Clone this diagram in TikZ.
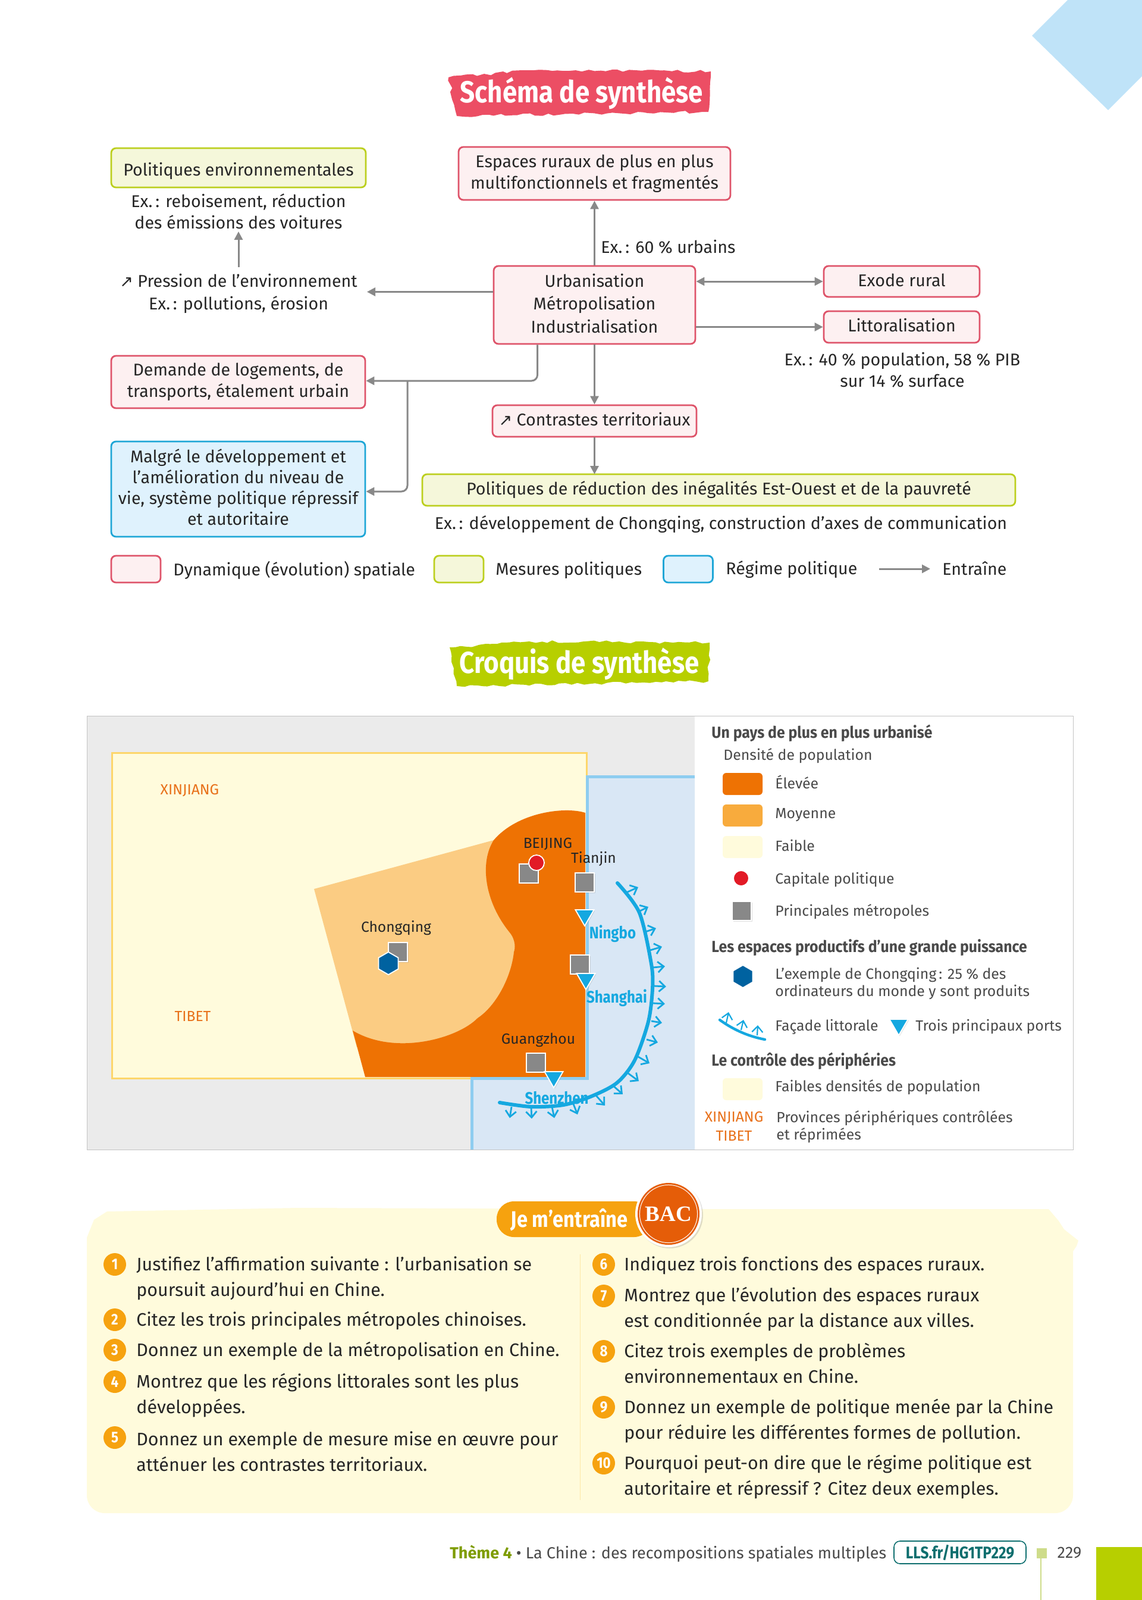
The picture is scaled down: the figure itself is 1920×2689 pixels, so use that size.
\documentclass[tikz,border=0pt]{standalone}
\usepackage{fontspec}
\setmainfont{Fira Sans}
\newfontfamily\headfont[FakeStretch=0.86]{Fira Sans}
\newfontfamily\keyfont[FakeStretch=0.92]{Fira Sans}
\newfontfamily\bacfont{Liberation Serif}
\newfontfamily\arrowfont{DejaVu Sans}
\usetikzlibrary{arrows.meta,calc,decorations.pathmorphing,positioning,shadows,shapes.geometric}
\definecolor{rosedraw}{RGB}{222,84,106}
\definecolor{rosefill}{RGB}{253,240,241}
\definecolor{limedraw}{RGB}{188,207,30}
\definecolor{limefill}{RGB}{245,247,218}
\definecolor{skydraw}{RGB}{30,166,214}
\definecolor{skyfill}{RGB}{223,242,253}
\definecolor{titlered}{RGB}{236,78,100}
\definecolor{titlegreen}{RGB}{183,207,0}
\definecolor{arrowgray}{RGB}{136,136,136}
\definecolor{inkdark}{RGB}{38,38,38}
\definecolor{legendink}{RGB}{74,74,74}
\definecolor{mapgray}{RGB}{235,235,235}
\definecolor{framegray}{RGB}{195,195,195}
\definecolor{faible}{RGB}{255,251,220}
\definecolor{faibledraw}{RGB}{253,214,107}
\definecolor{moyenne}{RGB}{251,204,131}
\definecolor{moyennekey}{RGB}{248,171,61}
\definecolor{elevee}{RGB}{238,114,3}
\definecolor{seafill}{RGB}{217,231,245}
\definecolor{seadraw}{RGB}{142,205,240}
\definecolor{coastblue}{RGB}{21,168,224}
\definecolor{hexblue}{RGB}{0,98,160}
\definecolor{capred}{RGB}{226,26,38}
\definecolor{provorange}{RGB}{232,113,26}
\definecolor{panelorange}{RGB}{246,162,15}
\definecolor{bacorange}{RGB}{229,93,8}
\definecolor{footgreen}{RGB}{126,156,0}
\definecolor{footteal}{RGB}{13,110,110}
\definecolor{footsquare}{RGB}{206,220,138}
\definecolor{cornerblue}{RGB}{191,227,248}
\newcommand{\uparr}{{\arrowfont\fontsize{13.5}{13.5}\selectfont ↗}}
\begin{document}
\begin{tikzpicture}[x=0.5pt,y=-0.5pt,
    txt/.style={inner sep=0pt,text=inkdark,font=\fontsize{14.3}{18}\selectfont,align=center},
    box/.style={txt,draw,line width=1.4pt,rounded corners=4pt},
    oneline/.style={text height=10pt,text depth=2pt},
    rosebox/.style={box,draw=rosedraw,fill=rosefill},
    limebox/.style={box,draw=limedraw,fill=limefill},
    skybox/.style={box,draw=skydraw,fill=skyfill},
    arr/.style={draw=arrowgray,line width=1.5pt,-{Triangle[length=7pt,width=7pt]}},
    maplbl/.style={inner sep=0pt,text=inkdark,font=\fontsize{12.3}{14}\selectfont},
    portlbl/.style={inner sep=0pt,text=coastblue,font=\headfont\bfseries\fontsize{14}{16}\selectfont},
    provlbl/.style={inner sep=0pt,text=provorange,font=\fontsize{12.3}{16}\selectfont},
    metro/.style={draw=white,fill=arrowgray,line width=0.9pt,minimum size=16pt,inner sep=0pt,drop shadow={opacity=.25,shadow xshift=.8pt,shadow yshift=-.8pt}},
    port/.style={regular polygon,regular polygon sides=3,shape border rotate=180,draw=white,fill=coastblue,line width=0.9pt,minimum size=18pt,inner sep=0pt,drop shadow={opacity=.2,shadow xshift=.8pt,shadow yshift=-.8pt}},
    capdot/.style={circle,draw=white,fill=capred,line width=0.9pt,minimum size=13pt,inner sep=0pt},
    hexmark/.style={regular polygon,regular polygon sides=6,shape border rotate=30,draw=white,fill=hexblue,line width=0.9pt,minimum size=19pt,inner sep=0pt},
    keybox/.style={rounded corners=3pt,minimum width=33.5pt,minimum height=18.5pt,inner sep=0pt},
    keyhead/.style={anchor=west,inner sep=0pt,text=legendink,font=\keyfont\bfseries\fontsize{13.5}{16}\selectfont},
    keytxt/.style={anchor=west,inner sep=0pt,yshift=-0.7pt,text=legendink,align=left,font=\fontsize{12.4}{14.5}\selectfont},
    coast/.style={draw=coastblue,line width=3pt,line cap=round},
    tick/.style={draw=coastblue,line width=1.4pt,-{Straight Barb[length=5pt,width=9pt]}},
    numdot/.style={circle,fill=panelorange,text=white,minimum size=19pt,inner sep=0pt,font=\headfont\bfseries\fontsize{13}{13}\selectfont},
    item/.style={anchor=west,inner sep=0pt,yshift=-1.5pt,text=inkdark,align=left,font=\fontsize{15.2}{21.5}\selectfont},
    rough/.style={decorate,decoration={random steps,segment length=5pt,amplitude=1.2pt}}]
  \useasboundingbox (0,0) rectangle (1920,2689);

  \fill[cornerblue] (1795,0) -- (1920,0) -- (1920,128) -- (1863,185) -- (1735,60) -- cycle;

  % schema
  \fill[titlered,rough] (754,130) -- (898,118) -- (1195,120) -- (1191,188) -- (768,195) -- cycle;
  \node[inner sep=0pt,text=white,font=\headfont\bfseries\fontsize{25.5}{28}\selectfont] (titleschema) at (978,157) {Schéma de synthèse};

  \node[limebox,text height=13pt,text depth=0pt,minimum width=214pt,minimum height=33pt] (envbox) at (401,282) {Politiques environnementales};
  \node[txt] (envex) at (401,355) {Ex.\,: reboisement, réduction\\des émissions des voitures};
  \node[txt,font=\fontsize{14.3}{19}\selectfont] (pression) at (401,493) {\uparr\ Pression de l’environnement\\Ex.\,: pollutions, érosion};
  \node[rosebox,minimum width=228.5pt,minimum height=44.5pt] (espaces) at (999.5,291.5) {Espaces ruraux de plus en plus\\multifonctionnels et fragmentés};
  \node[txt,anchor=west] (exurbains) at (1010,415) {Ex.\,: 60 \% urbains};
  \node[rosebox,minimum width=169.5pt,minimum height=65.5pt,font=\fontsize{14.3}{19.3}\selectfont] (urban) at (999.5,512.5) {Urbanisation\\Métropolisation\\Industrialisation\rule[-3pt]{0pt}{3pt}};
  \node[rosebox,oneline,minimum width=131pt,minimum height=26pt] (exode) at (1516,473) {Exode rural};
  \node[rosebox,oneline,minimum width=131pt,minimum height=26.5pt] (littoral) at (1516,549.5) {Littoralisation};
  \node[txt] (exlittoral) at (1517,622) {Ex.\,: 40 \% population, 58 \% PIB\\sur 14 \% surface};
  \node[rosebox,minimum width=213.5pt,minimum height=44pt] (demande) at (400.5,642) {Demande de logements, de\\transports, étalement urbain};
  \node[rosebox,oneline,minimum width=171.5pt,minimum height=26.5pt] (contrastes) at (999.5,707.5) {\uparr\ Contrastes territoriaux};
  \node[skybox,minimum width=213.5pt,minimum height=80pt,font=\fontsize{14.3}{17.5}\selectfont] (malgre) at (400.5,822) {Malgré le développement et\\l’amélioration du niveau de\\vie, système politique répressif\\et autoritaire\rule[-3pt]{0pt}{3pt}};
  \node[limebox,oneline,minimum width=498.5pt,minimum height=26.5pt] (reduction) at (1208.5,823.5) {Politiques de réduction des inégalités Est-Ouest et de la pauvreté};
  \node[txt] (exreduction) at (1212,881) {Ex.\,: développement de Chongqing, construction d’axes de communication};

  \coordinate (pressionend) at (617,490.5);
  \coordinate (branch) at (685,640);
  \draw[arr] (urban) -- (espaces);
  \draw[arr,shorten >=2pt,shorten <=5pt] (pression.north) -- (envex.south);
  \draw[arr] ([yshift=11pt]urban.west) -- (pressionend);
  \draw[arr,{Triangle[length=7pt,width=7pt]}-{Triangle[length=7pt,width=7pt]}] (urban.east|-exode) -- (exode.west);
  \draw[arr] (urban.east|-littoral) -- (littoral.west);
  \draw[arr,rounded corners=5pt] ([xshift=37.5pt]urban.south west) |- ([yshift=1pt]demande.east);
  \draw[arr,rounded corners=5pt] (branch) |- ([yshift=-2pt]malgre.east);
  \draw[arr] (urban) -- (contrastes);
  \draw[arr] (contrastes) -- (999.5,797);

  \node[rosebox,minimum width=41.5pt,minimum height=22.5pt] (keydyn) at (228.5,956.5) {};
  \node[txt,anchor=west] (lbldyn) at (291,958) {Dynamique (évolution) spatiale};
  \node[limebox,minimum width=41.5pt,minimum height=22.5pt] (keymes) at (771.5,956.5) {};
  \node[txt,anchor=west] (lblmes) at (833,958) {Mesures politiques};
  \node[skybox,minimum width=41.5pt,minimum height=22.5pt] (keyreg) at (1157,956.5) {};
  \node[txt,anchor=west] (lblreg) at (1220,957) {Régime politique};
  \coordinate (keyarrow) at (1478,956);
  \node[txt,anchor=west] (lblentraine) at (1584,955) {Entraîne};
  \draw[arr] (keyarrow) -- (1564,956);

  % croquis
  \fill[titlegreen,rough] (756,1088) -- (890,1078) -- (1193,1080) -- (1191,1145) -- (768,1153) -- cycle;
  \node[inner sep=0pt,text=white,font=\headfont\bfseries\fontsize{25.5}{28}\selectfont] (titlecroquis) at (974,1116) {Croquis de synthèse};

  \fill[mapgray] (146,1203) rectangle (1168,1932);
  \draw[draw=faibledraw,fill=faible,line width=1.5pt] (188,1265) rectangle (986,1812);
  \fill[moyenne] (528,1494) -- (830,1412) -- (900,1500) -- (900,1760) -- (600,1760) -- cycle;
  \fill[elevee] (593,1732) -- (614,1810) -- (984,1810) -- (984,1366)
    .. controls (950,1355) and (870,1365) .. (830,1412)
    .. controls (806,1450) and (815,1515) .. (856,1566)
    .. controls (868,1580) and (866,1595) .. (864,1600)
    .. controls (860,1640) and (835,1690) .. (803,1711)
    .. controls (770,1745) and (665,1775) .. (593,1732) -- cycle;
  \fill[seafill] (987,1305) -- (1168,1305) -- (1168,1932) -- (793,1932) -- (793,1812) -- (987,1812) -- cycle;
  \draw[seadraw,line width=2.5pt] (1168,1305) -- (987,1305) -- (987,1812) -- (793,1812) -- (793,1932);
  \draw[framegray,line width=0.5pt] (146,1203) rectangle (1804,1932);

  \draw[coast] plot[smooth] coordinates {(1038,1484) (1075,1534) (1095,1620) (1097,1662) (1090,1717) (1067,1782) (1037,1820) (993,1843) (947,1857) (893,1860) (840,1853)};
  \foreach \xa/\ya/\xb/\yb in {1053/1500/1073/1491,1072/1533/1090/1524,1085/1566/1103/1560,1093/1597/1113/1591,1098/1626/1118/1624,1099/1657/1120/1658,1098/1686/1118/1687,1095/1716/1113/1719,1087/1747/1106/1752,1073/1776/1092/1787,1055/1803/1074/1817,1030/1824/1047/1839,1002/1841/1017/1858,963/1853/971/1873,928/1860/932/1879,893/1861/894/1880,860/1860/857/1879}
    \draw[tick] (\xa,\ya) -- (\xb,\yb);

  \node[provlbl] (xinjiang) at (319,1329) {XINJIANG};
  \node[provlbl] (tibet) at (324,1708) {TIBET};
  \node[maplbl] (lblbeijing) at (921,1419) {BEIJING};
  \node[maplbl] (lbltianjin) at (998,1443) {Tianjin};
  \node[maplbl] (lblchongqing) at (666,1560) {Chongqing};
  \node[maplbl] (lblguangzhou) at (905,1748) {Guangzhou};
  \node[portlbl] (lblningbo) at (1030,1569) {Ningbo};
  \node[portlbl] (lblshanghai) at (1037,1677) {Shanghai};
  \node[portlbl] (lblshenzhen) at (936,1845) {Shenzhen};

  \node[metro] (mbeijing) at (889,1468) {};
  \node[capdot] (cbeijing) at (902,1450) {};
  \node[metro] (mtianjin) at (983,1483) {};
  \node[port] (pningbo) at (983,1538) {};
  \node[metro] (mshanghai) at (975,1621) {};
  \node[port] (pshanghai) at (985,1645) {};
  \node[metro] (mguangzhou) at (901,1786) {};
  \node[port] (pshenzhen) at (931,1810) {};
  \node[metro] (mchongqing) at (669,1600) {};
  \node[hexmark] (hchongqing) at (653,1619) {};

  % legende croquis
  \node[keyhead] (headpays) at (1196,1232) {Un pays de plus en plus urbanisé};
  \node[keytxt] (lbldensite) at (1216,1269) {Densité de population};
  \node[keybox,fill=elevee] (keyelevee) at (1248.5,1317.5) {};
  \node[keytxt] (lblelevee) at (1303,1313) {Élevée};
  \node[keybox,fill=moyennekey] (keymoyenne) at (1248.5,1370.5) {};
  \node[keytxt] (lblmoyenne) at (1303,1368) {Moyenne};
  \node[keybox,fill=faible] (keyfaible) at (1248.5,1423.5) {};
  \node[keytxt] (lblfaible) at (1303,1420) {Faible};
  \node[capdot] (keycap) at (1246,1476) {};
  \node[keytxt] (lblcap) at (1303,1477) {Capitale politique};
  \node[metro] (keymetro) at (1247,1531) {};
  \node[keytxt] (lblmetro) at (1303,1531) {Principales métropoles};
  \node[keyhead] (headespaces) at (1196,1593) {Les espaces productifs d’une grande puissance};
  \node[hexmark] (keyhex) at (1249,1641) {};
  \node[keytxt] (lblhex) at (1303,1652) {L’exemple de Chongqing\,: 25 \% des\\ordinateurs du monde y sont produits};
  \draw[coast,line width=2.2pt] (1210,1714) .. controls (1235,1732) and (1260,1742) .. (1286,1747);
  \draw[tick,line width=1.1pt] (1221,1719) -- (1225,1701);
  \draw[tick,line width=1.1pt] (1246,1731) -- (1250,1714);
  \draw[tick,line width=1.1pt] (1273,1740) -- (1274,1723);
  \node[keytxt] (lblfacade) at (1303,1724) {Façade littorale};
  \node[port] (keyport) at (1511,1722) {};
  \node[keytxt] (lblport) at (1539,1724) {Trois principaux ports};
  \node[keyhead] (headcontrole) at (1196,1783) {Le contrôle des périphéries};
  \node[keybox,fill=faible] (keyfaibles) at (1248.5,1830.5) {};
  \node[keytxt] (lblfaibles) at (1303,1826) {Faibles densités de population};
  \node[provlbl,align=center] (keyprov) at (1234,1893) {XINJIANG\\TIBET};
  \node[keytxt] (lblprov) at (1305,1892) {Provinces périphériques contrôlées\\et réprimées};

  % exercices
  \fill[faible] (146,2080) -- (158,2050) -- (180,2036) -- (500,2030) -- (1100,2032) -- (1763,2032) -- (1780,2052) -- (1789,2066) -- (1813,2085) -- (1810,2094) -- (1804,2103) [rounded corners=15pt] -- (1804,2543) -- (146,2543) -- (146,2200) [sharp corners] -- cycle;
  \draw[faibledraw!60,line width=0.5pt] (975,2108) -- (975,2521);
  \fill[panelorange,rounded corners=14.5pt] (835,2019) rectangle (1095,2079);
  \node[inner sep=0pt,text=white,font=\headfont\bfseries\fontsize{19}{22}\selectfont] (entraine) at (957,2050) {Je m’entraîne};
  \node[circle,fill=white,minimum size=56pt,inner sep=0pt,drop shadow={opacity=.25,shadow xshift=1pt,shadow yshift=-1pt}] (bacring) at (1124,2040) {};
  \node[circle,fill=bacorange,minimum size=52pt,inner sep=0pt,text=white,font=\bacfont\bfseries\fontsize{18.5}{24}\selectfont] (bac) at (1124,2040) {BAC};
  \draw[white,line width=0.5pt] (bac) circle (24.3pt);

  \foreach \num/\xc/\yc in {1/193/2125,2/193/2218,3/193/2269,4/193/2322,5/193/2416,6/1015/2125,7/1015/2178,8/1015/2271,9/1015/2365,10/1015/2459}
    \node[numdot] (num\num) at (\xc,\yc) {\num};
  \node[item] (item1) at (229,2145) {Justifiez l’affirmation suivante : l’urbanisation se\\poursuit aujourd’hui en Chine.};
  \node[item] (item2) at (229,2217) {Citez les trois principales métropoles chinoises.};
  \node[item] (item3) at (229,2268) {Donnez un exemple de la métropolisation en Chine.};
  \node[item] (item4) at (229,2342) {Montrez que les régions littorales sont les plus\\développées.};
  \node[item] (item5) at (229,2436) {Donnez un exemple de mesure mise en œuvre pour\\atténuer les contrastes territoriaux.};
  \node[item] (item6) at (1049,2124) {Indiquez trois fonctions des espaces ruraux.};
  \node[item] (item7) at (1049,2197) {Montrez que l’évolution des espaces ruraux\\est conditionnée par la distance aux villes.};
  \node[item] (item8) at (1049,2288) {Citez trois exemples de problèmes\\environnementaux en Chine.};
  \node[item] (item9) at (1049,2385) {Donnez un exemple de politique menée par la Chine\\pour réduire les différentes formes de pollution.};
  \node[item] (item10) at (1049,2479) {Pourquoi peut-on dire que le régime politique est\\autoritaire et répressif ? Citez deux exemples.};

  % pied de page
  \node[anchor=west,inner sep=0pt,text=legendink,font=\fontsize{13.5}{16}\selectfont] (foottheme) at (756,2611) {{\bfseries\color{footgreen}Thème 4} • La Chine : des recompositions spatiales multiples};
  \node[draw=footteal,line width=0.8pt,rounded corners=5pt,minimum width=111pt,minimum height=19pt,inner sep=0pt,text=footteal,font=\headfont\bfseries\fontsize{14.2}{16}\selectfont] (footlink) at (1614,2609) {LLS.fr/HG1TP229};
  \fill[footsquare] (1743,2602) rectangle (1760,2619);
  \draw[footsquare,line width=1pt] (1750,2619) -- (1750,2689);
  \node[inner sep=0pt,text=legendink,font=\fontsize{13.5}{16}\selectfont] (pagenum) at (1798,2610) {229};
  \fill[titlegreen] (1843,2600) rectangle (1920,2689);
\end{tikzpicture}
\end{document}
